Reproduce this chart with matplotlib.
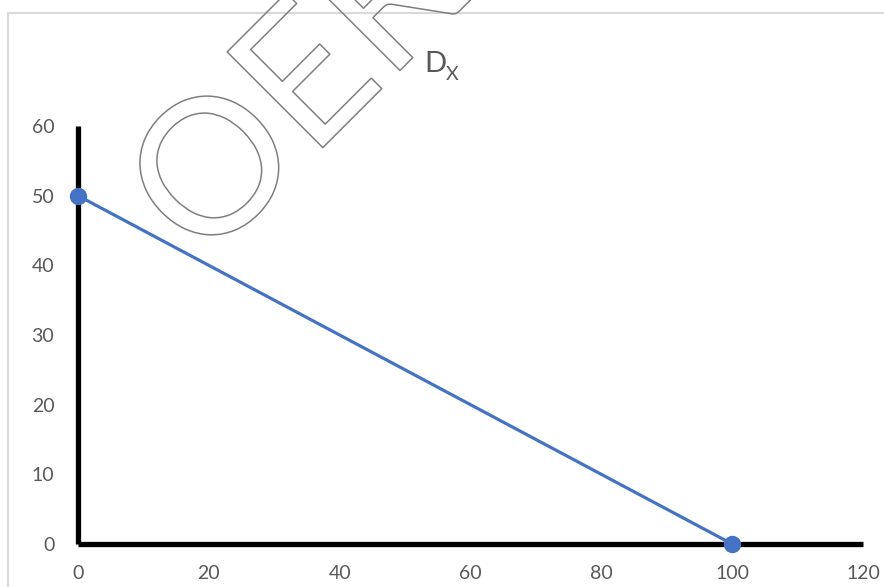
import matplotlib
matplotlib.use("Agg")
import matplotlib.pyplot as plt
import matplotlib.patheffects as pe
from matplotlib.patches import Rectangle

# demand curve points
qty = [0, 100]
price = [50, 0]
x_ticks = [0, 20, 40, 60, 80, 100, 120]
y_ticks = [0, 10, 20, 30, 40, 50, 60]

plt.rcParams['font.family'] = ['Lato', 'DejaVu Sans']

fig = plt.figure(figsize=(8.84, 5.87), dpi=100)
ax = fig.add_axes([0.0882, 0.0733, 0.888, 0.712])

# chart area border (light gray, runs off the right/bottom edge)
fig.patches.append(Rectangle((8 / 884, -0.1), 1.2, 1.1 - 13 / 587,
                             transform=fig.transFigure, fill=False,
                             edgecolor='#d9d9d9', linewidth=1.5, zorder=0))

ax.plot(qty, price, color='#4472C4', linewidth=2.3, marker='o',
        markersize=11.5, zorder=5, clip_on=False)

ax.set_xlim(0, 120)
ax.set_ylim(0, 60)
ax.set_xticks(x_ticks)
ax.set_yticks(y_ticks)
ax.tick_params(length=0, labelsize=14, labelcolor='#595959')
ax.tick_params(axis='x', pad=15)
ax.tick_params(axis='y', pad=17)

for s in ['top', 'right']:
    ax.spines[s].set_visible(False)
for s in ['left', 'bottom']:
    ax.spines[s].set_linewidth(3.8)
    ax.spines[s].set_color('black')
    ax.spines[s].set_capstyle('butt')

# curve label
fig.text(424 / 884, 1 - 72 / 587, 'D', fontsize=21, color='#595959',
         ha='left', va='baseline')
fig.text(446 / 884, 1 - 80 / 587, 'X', fontsize=14, color='#595959',
         ha='left', va='baseline')

# outlined watermark
fig.text(0.339, 0.838, 'OER', fontsize=136, rotation=45, color='none',
         ha='center', va='center', rotation_mode='anchor', zorder=10,
         path_effects=[pe.Stroke(linewidth=1.1, foreground='#7f7f7f')])

fig.savefig('out.png', dpi=100)
